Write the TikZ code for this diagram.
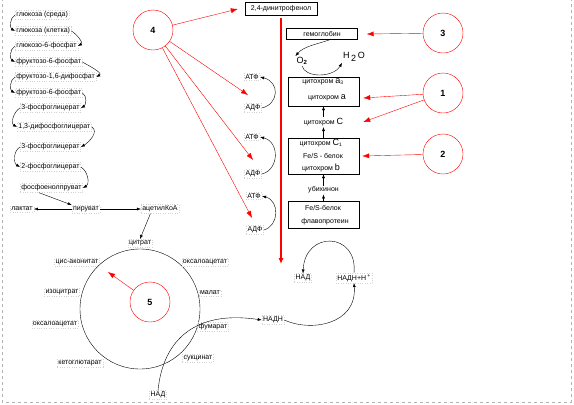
\documentclass[tikz,border=0pt]{standalone}
\usepackage{fontspec}
\setmainfont{Liberation Sans}
\usetikzlibrary{arrows.meta, positioning, calc}
\tikzset{%
	lbl/.style={inner sep=1.2pt, font=\fontsize{7}{8}\selectfont, draw=gray!35, dotted},
	txt/.style={inner sep=1pt, font=\fontsize{7}{8}\selectfont},
	num/.style={draw=red, circle, minimum size=40pt, inner sep=0pt, fill=white,%
		font=\fontsize{9}{10}\selectfont\bfseries},
	cbox/.style={draw, rectangle, inner sep=0pt, minimum width=71pt},
	cyc/.style={-{Latex[length=4pt,width=3pt]}},
	redarr/.style={red, -{Latex[length=7pt,width=5pt]}},
	membr/.style={red, line width=1.1pt, -{Latex[length=6pt,width=5pt]}},
	frame/.style={draw=gray!60, dashed}
}
\newcommand{\cytl}[1]{{\fontsize{9}{9}\selectfont #1}}

\begin{document}
\begin{tikzpicture}[x=1pt, y=-1pt]
	\useasboundingbox (0,0) rectangle (574,405);
	\draw[frame] (2,-2) -- (2,402) -- (571,402) -- (571,-2);

	% glycolysis
	\node[lbl, anchor=west] (glcout) at (15,15) {глюкоза (среда)};
	\node[lbl, anchor=west] (glcin) at (15,31) {глюкоза (клетка)};
	\node[lbl, anchor=west] (g6p) at (15,46) {глюкозо-6-фосфат};
	\node[lbl, anchor=west] (f6p) at (15,62) {фруктозо-6-фосфат};
	\node[lbl, anchor=west] (fbp) at (15,77) {фруктозо-1,6-дифосфат};
	\node[lbl, anchor=west] (f6pb) at (15,93) {фруктозо-6-фосфат};
	\node[lbl, anchor=west] (pga3) at (20,108) {3-фосфоглицерат};
	\node[lbl, anchor=west] (bpg) at (17,127) {1,3-дифосфоглицерат};
	\node[lbl, anchor=west] (pga3b) at (20,147) {3-фосфоглицерат};
	\node[lbl, anchor=west] (pga2) at (20,167) {2-фосфоглицерат};
	\node[lbl, anchor=west] (pep) at (20,188) {фосфоенолпруват};
	\node[lbl] (pyr) at (86,209) {пируват};
	\node[lbl] (lac) at (22,209) {лактат};
	\node[lbl] (acoa) at (160,209) {ацетилКоА};
	\node[lbl] (cit) at (140,243) {цитрат};

	\draw[cyc] (glcout.west) to[out=210, in=150] (glcin.west);
	\draw[cyc] (glcin.east) to[out=-30, in=30] (g6p.east);
	\draw[cyc] (g6p.west) to[out=210, in=150] (f6p.west);
	\draw[cyc] (f6p.east) to[out=-30, in=30] (fbp.east);
	\draw[cyc] (fbp.west) to[out=210, in=150] (f6pb.west);
	\draw[cyc] (f6pb.east) to[out=-30, in=30] (pga3.east);
	\draw[cyc] (pga3.west) to[out=210, in=150] (bpg.west);
	\draw[cyc] (bpg.east) to[out=-30, in=30] (pga3b.east);
	\draw[cyc] (pga3b.west) to[out=210, in=150] (pga2.west);
	\draw[cyc] (pga2.east) to[out=-30, in=30] (pep.east);
	\draw[cyc] ($(pep.south west)!0.3!(pep.south east)$) -- (pyr.north west);
	\draw[cyc] (pyr.west) -- (lac.east);
	\draw[cyc] (pyr.east) -- (acoa.west);
	\draw[cyc] ($(acoa.south west)!0.25!(acoa.south east)$) -- (cit.north);

	% krebs cycle
	\node[draw, circle, minimum size=120pt, inner sep=0pt] (krebs) at (140,309) {};
	\node[lbl] (cisacon) at (77,262) {цис-аконитат};
	\node[lbl] (isocit) at (62,292) {изоцитрат};
	\node[lbl] (oaal) at (55,324) {оксалоацетат};
	\node[lbl] (akg) at (80,363) {кетоглютарат};
	\node[lbl] (oaar) at (205,262) {оксалоацетат};
	\node[lbl] (mal) at (210,293) {малат};
	\node[lbl] (fum) at (213,327) {фумарат};
	\node[lbl] (succ) at (198,358) {сукцинат};
	\node[lbl] (nad1) at (158,395) {НАД};
	\node[num] (n5) at (150,302) {5};
	\coordinate (c5tip) at (108,272);
	\draw[redarr] (n5) -- (c5tip);

	% NAD cycle
	\node[lbl] (nadh) at (273,320) {НАДН};
	\node[lbl] (nad2) at (303,278) {НАД};
	\node[lbl] (nadhh) at (354,278) {НАДН+Н\,\textsuperscript{+}};
	\draw[cyc] (nad1.north) .. controls (163,340) and (195,310) .. (nadh.west);
	\draw[cyc] (nadh.east) .. controls (310,332) and (357,325) .. (nadhh.south);
	\draw[cyc] (nadhh.north) .. controls (358,232) and (305,230) .. (nad2.north);

	% membrane
	\node[draw, rectangle, txt, minimum width=72pt, minimum height=13pt] (dnp) at (281,9) {2,4-динитрофенол};
	\coordinate (mtop) at (281,18);
	\coordinate (mbot) at (281,264);
	\draw[membr] (mtop) -- (mbot);

	\node[lbl] (atp1) at (252,77) {АТФ};
	\node[lbl] (adp1) at (253,108) {АДФ};
	\node[lbl] (atp2) at (252,137) {АТФ};
	\node[lbl] (adp2) at (253,174) {АДФ};
	\node[lbl] (atp3) at (254,196) {АТФ};
	\node[lbl] (adp3) at (255,230) {АДФ};
	\draw[cyc] (adp1.east) .. controls (279,104) and (280,82) .. (atp1.east);
	\draw[cyc] (adp2.east) .. controls (279,170) and (280,142) .. (atp2.east);
	\draw[cyc] (adp3.east) .. controls (279,226) and (280,201) .. (atp3.east);

	% respiratory chain
	\node[cbox, minimum height=11pt, txt] (hb) at (322,34) {гемоглобин};
	\node[inner sep=1pt, font=\fontsize{9}{10}\selectfont] (o2) at (302,61) {O\textsubscript{\bfseries 2}};
	\node[inner sep=1pt, font=\fontsize{9}{10}\selectfont] (h2o) at (354,57) {H\,\raisebox{-3pt}{2}\,O};
	\draw[cyc] ([xshift=8pt]hb.south) .. controls (318,44) and (304,46) .. (o2.north west);
	\draw[cyc] (o2.south) .. controls (305,78) and (333,78) .. (h2o.south west);

	\node[cbox, minimum height=29pt] (ox) at (323.5,91.5) {};
	\node[txt] (cyta3) at (323,82) {цитохром \cytl{a}\textsubscript{3}};
	\node[txt] (cyta) at (327,98) {цитохром \cytl{a}};
	\node[txt] (cytc) at (323.5,122) {цитохром \cytl{C}};
	\node[cbox, minimum height=36pt] (bc1) at (323.5,156) {};
	\node[txt] (cytc1) at (321,143) {цитохром \cytl{C}\textsubscript{1}};
	\node[txt] (fes1) at (323,156) {Fe/S - белок};
	\node[txt] (cytb) at (321,168) {цитохром \cytl{b}};
	\node[txt] (ubq) at (323.5,190) {убихинон};
	\node[cbox, minimum height=27pt] (fp) at (323.5,214.5) {};
	\node[txt] (fes2) at (323,208) {Fe/S-белок};
	\node[txt] (flav) at (325,222) {флавопротеин};

	\draw[cyc] (fp.north) -- (ubq.south);
	\draw[cyc] (ubq.north) -- (bc1.south);
	\draw[cyc] (bc1.north) -- (cytc.south);
	\draw[cyc] (cytc.north) -- (ox.south);

	% numbered marks
	\node[num] (n4) at (153,30) {4};
	\node[num] (n3) at (443,33) {3};
	\node[num] (n1) at (443,93) {1};
	\node[num] (n2) at (443,154) {2};
	\coordinate (p1) at (248,95);
	\coordinate (p2) at (253,160);
	\coordinate (p3) at (252,218);
	\draw[redarr] (n4) -- ([xshift=-7pt]dnp.west);
	\draw[redarr] (n4) -- (p1);
	\draw[redarr] (n4) -- (p2);
	\draw[redarr] (n4) -- (p3);
	\draw[redarr] (n3) -- ([xshift=9pt]hb.east);
	\draw[redarr] (n1) -- ([xshift=4pt]ox.east |- cyta);
	\draw[redarr] (n1) -- ([xshift=4pt]ox.east |- cytc);
	\draw[redarr] (n2) -- ([xshift=3pt]bc1.east);
\end{tikzpicture}
\end{document}
